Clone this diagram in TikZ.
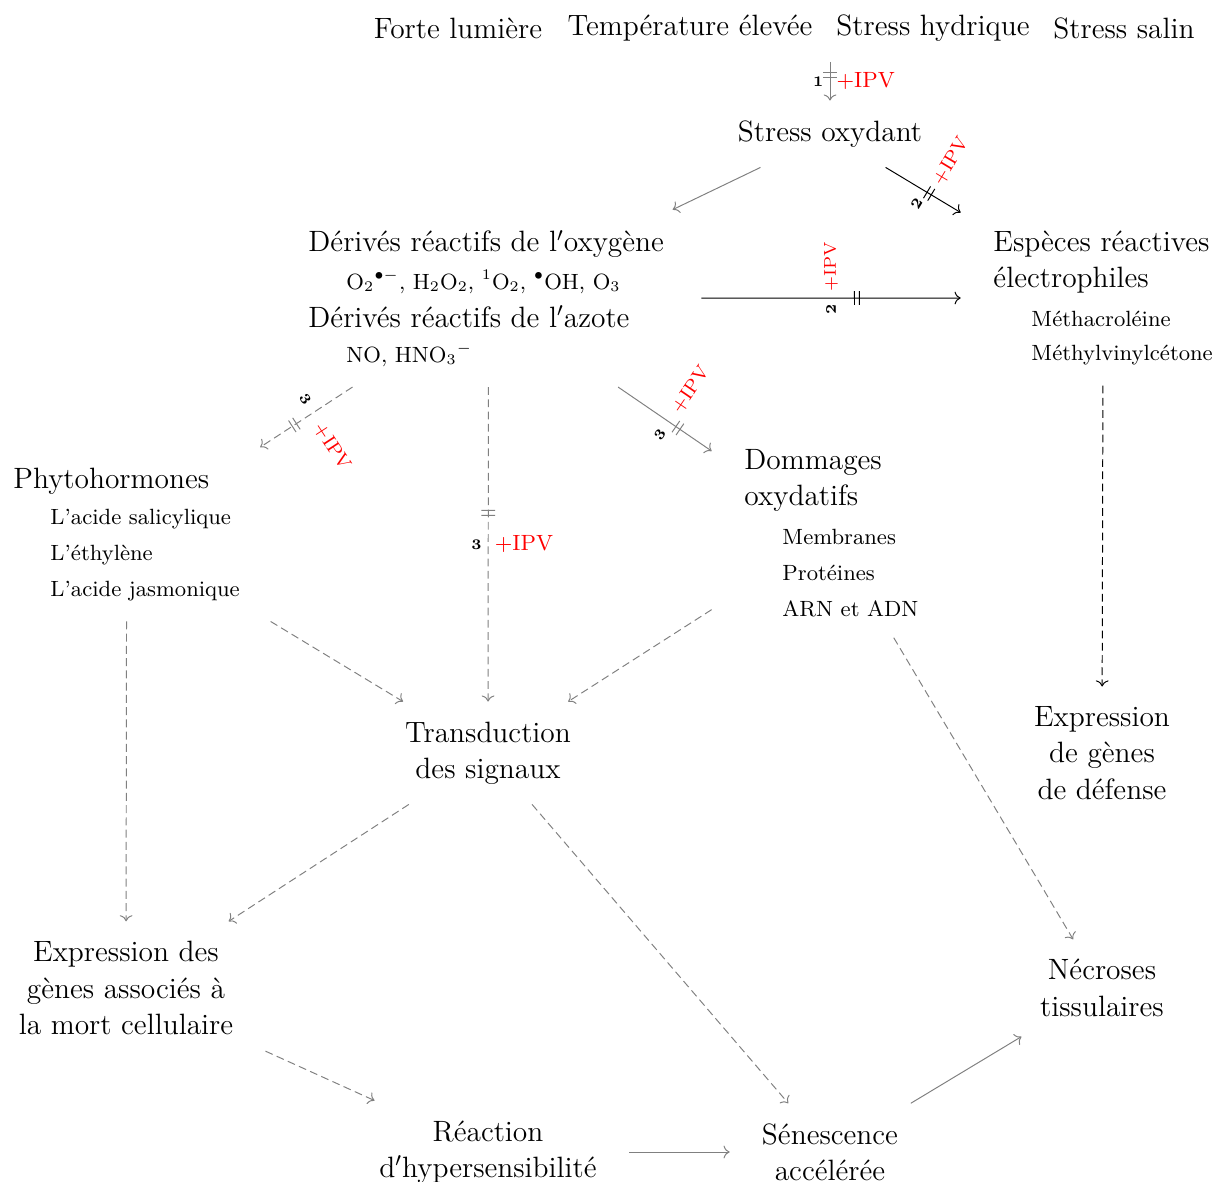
\documentclass[tikz,border=0pt]{standalone}
\usepackage{fontspec}
\usetikzlibrary{fit,decorations.markings,arrows.meta}
\begin{document}
\begin{tikzpicture}[x=0.4082pt,y=-0.4082pt,
  big/.style={font=\fontsize{12}{14.8}\selectfont},
  sm/.style={font=\fontsize{9}{11}\selectfont},
  ln/.style={inner sep=0pt, anchor=west},
  cellbox/.style={big, align=center, inner xsep=13pt, inner ysep=8pt},
  blk/.style={inner xsep=13pt, inner ysep=8pt},
  ga/.style={draw=gray, ->},
  gd/.style={ga, dash pattern=on 3.2pt off 1.8pt},
  ba/.style={draw=black, ->},
  bd/.style={ba, dash pattern=on 3.2pt off 1.8pt},
  dbar/.style={postaction={decorate, decoration={markings, mark=at position #1 with {\draw[solid,-] (-1pt,-2.8pt) -- (-1pt,2.8pt) (1pt,-2.8pt) -- (1pt,2.8pt);}}}},
  ipv/.style={pos=#1, sloped, allow upside down, rotate=90, anchor=west, text=red, inner sep=2.5pt, font=\fontsize{7}{8}\selectfont},
  ipvbig/.style={ipv=#1, font=\fontsize{9}{10}\selectfont},
  ipvd/.style={ipv=#1, inner sep=5pt, font=\fontsize{7.8}{9}\selectfont},
  num/.style={pos=#1, sloped, allow upside down, rotate=90, anchor=east, text=black, inner sep=2.5pt, font=\fontsize{6}{7}\selectfont\bfseries},
  numd/.style={num=#1, inner sep=4pt},
]
\useasboundingbox (0,0) rectangle (1214,1182);

% top stressors
\node[big, inner sep=0pt] (s1) at (458,28) {Forte lumière};
\node[big, inner sep=0pt] (s2) at (690,28) {Température élevée};
\node[big, inner sep=0pt] (s3) at (933,28) {Stress hydrique};
\node[big, inner sep=0pt] (s4) at (1124,28) {Stress salin};
\node[fit=(s1)(s2)(s3)(s4), inner xsep=0pt, inner ysep=8pt] (top) {};

\node[cellbox] (so) at (830,134) {Stress oxydant};
\coordinate (a1) at (top.south -| so.center);

% Dérivés block
\node[big, ln] (dr1) at (308,244) {Dérivés réactifs de l$'$oxygène};
\node[sm, ln] (dr2) at (346,282) {O$_2{}^{\bullet-}$, H$_2$O$_2$, $^1$O$_2$, $^\bullet$OH, O$_3$};
\node[big, ln] (dr3) at (308,317) {Dérivés réactifs de l$'$azote};
\node[sm, ln] (dr4) at (346,355) {NO, HNO$_3{}^-$};
\coordinate (drr) at (669,300);
\node[fit=(dr1)(dr2)(dr3)(dr4)(drr), blk] (dr) {};

% Espèces block
\node[big, ln] (er1) at (993,244) {Espèces réactives};
\node[big, ln] (er2) at (993,280) {électrophiles};
\node[sm, ln] (er3) at (1031,319) {Méthacroléine};
\node[sm, ln] (er4) at (1031,355) {Méthylvinylcétone};
\node[fit=(er1)(er2)(er3)(er4), blk] (ers) {};

% Phytohormones block
\node[big, ln] (ph1) at (13,481) {Phytohormones};
\node[sm, ln] (ph2) at (50,519) {L’acide salicylique};
\node[sm, ln] (ph3) at (50,555) {L’éthylène};
\node[sm, ln] (ph4) at (50,591) {L’acide jasmonique};
\node[fit=(ph1)(ph2)(ph3)(ph4), blk] (ph) {};

% Dommages block
\node[big, ln] (do1) at (744,462) {Dommages};
\node[big, ln] (do2) at (744,498) {oxydatifs};
\node[sm, ln] (do3) at (782,537) {Membranes};
\node[sm, ln] (do4) at (782,573) {Protéines};
\node[sm, ln] (do5) at (782,609) {ARN et ADN};
\node[fit=(do1)(do2)(do3)(do4)(do5), blk] (do) {};

\node[cellbox] (tr) at (488,753) {Transduction\\des signaux};
\node[cellbox] (eg) at (1102,753) {Expression\\de gènes\\de défense};
\node[cellbox] (ex) at (126,988) {Expression des\\gènes associés à\\la mort cellulaire};
\node[cellbox] (ne) at (1102,988) {Nécroses\\tissulaires};
\node[cellbox] (rh) at (488,1152) {Réaction\\d$'$hypersensibilité};
\node[cellbox] (se) at (830,1152) {Sénescence\\accélérée};

% connectors
\draw[ga, dbar=0.33] (a1) -- (so) node[ipvbig=0.5]{+IPV} node[num=0.5]{1};
\draw[ga] (so) -- (dr);
\draw[ba, dbar=0.58] (so) -- (ers) node[ipvd=0.6]{+IPV} node[numd=0.52]{2};
\draw[ba, dbar=0.6] (dr) -- (ers) node[ipv=0.5]{+IPV} node[num=0.5]{2};
\draw[gd, dbar=0.63] (dr) -- (ph) node[ipvd=0.45]{+IPV} node[numd=0.42]{3};
\draw[gd, dbar=0.4] (dr) -- (tr) node[ipvbig=0.5]{+IPV} node[num=0.5]{3};
\draw[ga, dbar=0.64] (dr) -- (do) node[ipvd=0.54]{+IPV} node[numd=0.54]{3};
\draw[bd] (ers) -- (eg);
\draw[gd] (ph) -- (ex);
\draw[gd] (ph) -- (tr);
\draw[gd] (do) -- (tr);
\draw[gd] (do) -- (ne);
\draw[gd] (tr) -- (ex);
\draw[gd] (tr) -- (se);
\draw[gd] (ex) -- (rh);
\draw[ga] (rh) -- (se);
\draw[ga] (se) -- (ne);
\end{tikzpicture}
\end{document}
